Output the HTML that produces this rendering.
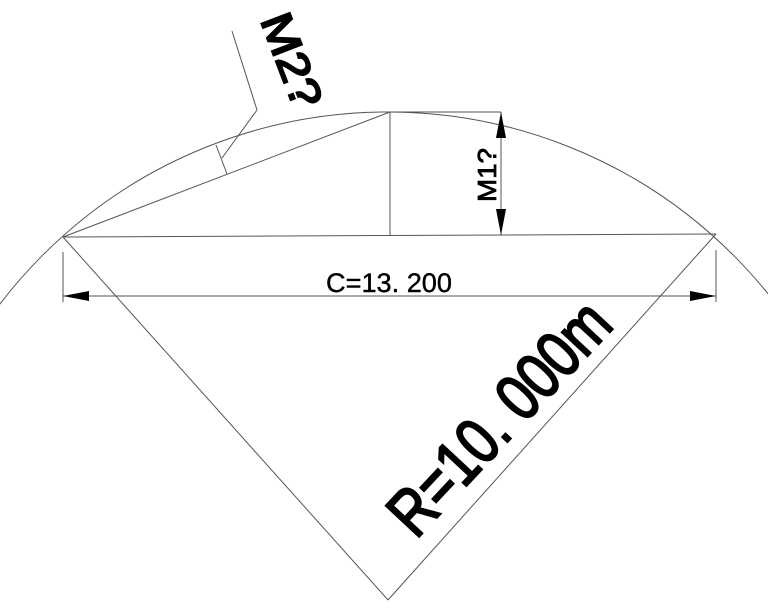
<!DOCTYPE html>
<html><head><meta charset="utf-8"><style>html,body{margin:0;padding:0;background:#fff;overflow:hidden;width:768px;height:615px}svg{display:block}</style></head>
<body>
<svg width="768" height="615" viewBox="0 0 768 615" xmlns="http://www.w3.org/2000/svg">
<g fill="none" stroke="#555" stroke-width="1">
<circle cx="388" cy="600" r="488"/>
<line x1="63" y1="237" x2="388" y2="600"/>
<line x1="716" y1="234" x2="388" y2="600"/>
<line x1="63" y1="237" x2="716" y2="234"/>
<line x1="63" y1="237" x2="390" y2="112"/>
<line x1="390" y1="112" x2="390" y2="236"/>
<line x1="390" y1="112" x2="501" y2="112"/>
<line x1="501" y1="112" x2="501" y2="235"/>
<line x1="63" y1="252" x2="63" y2="302"/>
<line x1="716" y1="250" x2="716" y2="302"/>
<line x1="63" y1="296" x2="716" y2="296"/>
<line x1="216" y1="145" x2="227" y2="174"/>
<line x1="232" y1="31" x2="257" y2="110"/>
<line x1="257" y1="110" x2="222" y2="158"/>
</g>
<g fill="#000">
<polygon points="501,112 496,138 506,138"/>
<polygon points="501,235 496,209 506,209"/>
<polygon points="63,296 89,291 89,301"/>
<polygon points="716,296 690,291 690,301"/>
</g>
<g font-family="'Liberation Sans','IPAGothic',sans-serif" fill="#000" stroke="#000">
<text x="326" y="292" font-size="27" stroke-width="0.4" textLength="126" lengthAdjust="spacingAndGlyphs">C=13. 200</text>
<text transform="translate(496,202) rotate(-90)" font-size="26" stroke-width="0.8" textLength="54" lengthAdjust="spacingAndGlyphs">M1?</text>
<text transform="translate(260,20) rotate(69)" font-size="44" stroke-width="2" textLength="98" lengthAdjust="spacingAndGlyphs">M2?</text>
<text transform="translate(416,540) rotate(-47)" font-size="66" stroke-width="2.2" textLength="292" lengthAdjust="spacingAndGlyphs">R=10. 000m</text>
</g>
</svg>
</body></html>
